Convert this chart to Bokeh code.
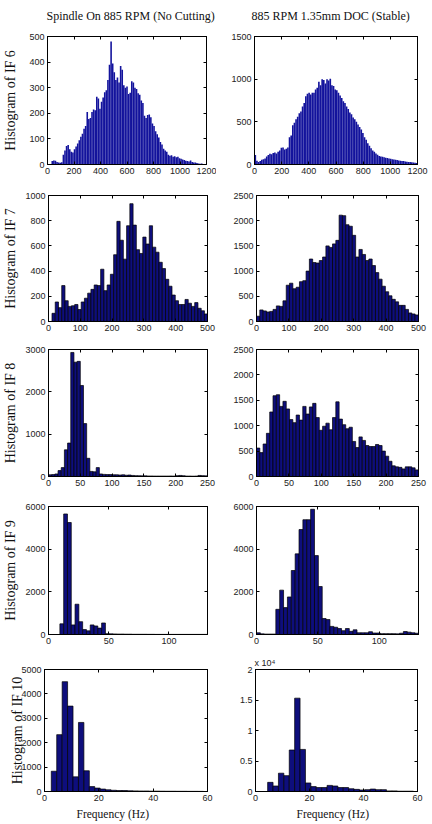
import numpy as np
from bokeh.plotting import figure
from bokeh.models import Range1d, FixedTicker, LinearAxis, Title, Label
from bokeh.layouts import column, row
from bokeh.embed import file_html
from bokeh.resources import INLINE

# ---- histogram counts (one list per panel) ----
# IF 6: bins of 12 Hz
if6_nocut = [14, 16, 15, 10, 8, 7, 9, 38, 55, 72, 76, 60, 50, 47, 60, 70, 82, 95, 108, 120,
             140, 150, 205, 178, 182, 205, 215, 212, 265, 258, 218, 245, 262, 282, 290, 330, 390, 480, 395, 360,
             330, 340, 320, 385, 370, 310, 300, 305, 275, 280, 325, 320, 300, 295, 278, 272, 250, 240, 190, 182,
             193, 195, 185, 160, 150, 130, 118, 105, 88, 78, 62, 55, 50, 38, 34, 36, 30, 32, 28, 30,
             24, 22, 20, 18, 15, 14, 12, 16, 10, 8, 8, 6, 4, 3, 4, 2]
if6_stable = [110, 45, 30, 40, 55, 62, 70, 95, 110, 125, 120, 135, 140, 130, 150, 165, 195, 200, 175, 185,
              200, 320, 340, 460, 490, 530, 560, 600, 620, 680, 720, 800, 830, 840, 820, 840, 840, 880, 900, 970,
              930, 1000, 990, 950, 1000, 985, 1005, 930, 920, 880, 870, 840, 810, 780, 740, 720, 680, 650, 610, 590,
              550, 530, 500, 470, 440, 410, 370, 320, 290, 250, 220, 190, 165, 150, 130, 115, 100, 95, 90, 85,
              80, 75, 70, 68, 62, 58, 55, 52, 48, 45, 42, 40, 36, 33, 30, 28, 25, 22, 20, 18]
# IF 7
if7_nocut = [65, 155, 110, 285, 165, 120, 125, 135, 95, 155, 185, 225, 255, 290, 285, 415, 245, 290, 375, 530,
             795, 645, 495, 760, 935, 765, 570, 540, 670, 615, 760, 590, 550, 470, 420, 335, 280, 210, 165, 135,
             135, 175, 145, 120, 150, 105, 85, 60]
if7_stable = [105, 230, 210, 190, 200, 240, 310, 300, 410, 720, 760, 650, 680, 790, 810, 1000, 1240, 1170, 1160, 1210,
              1280, 1500, 1470, 1540, 1610, 2110, 2100, 1920, 1890, 1710, 1280, 1430, 1330, 1210, 1240, 1110, 970, 840, 700, 590,
              510, 440, 390, 320, 320, 240, 170, 150, 130]
# IF 8
if8_nocut = [40, 45, 60, 140, 210, 630, 790, 2930, 2700, 2720, 2150, 1250, 430, 120, 110, 210, 60, 50, 45, 45,
             40, 40, 35, 40, 30, 35, 25, 20, 18, 15, 15, 12, 12, 10, 10, 10, 10, 10, 12, 10,
             20, 25, 18, 10, 10, 8, 10, 25, 20, 15]
if8_stable = [560, 470, 640, 850, 1270, 1590, 1610, 1380, 1480, 1330, 1120, 1060, 1210, 1110, 1380, 1230, 1370, 1440, 1160, 910,
              990, 1050, 920, 1160, 1470, 1130, 1020, 940, 970, 690, 570, 780, 710, 610, 590, 590, 630, 610, 500, 400,
              300, 210, 190, 180, 150, 190, 190, 170, 130]
# IF 9
if9_nocut = [0, 0, 0, 500, 5650, 5250, 450, 1420, 600, 230, 170, 450, 400, 300, 540, 40, 30, 25, 20, 20,
             15, 15, 10, 10, 10, 10, 8, 8, 5, 5, 5, 5, 5, 5, 5, 5, 5, 5, 5, 5, 5, 5]
if9_stable = [80, 30, 20, 20, 20, 1180, 2080, 1260, 1760, 3000, 3780, 4920, 5380, 5380, 5870, 3700, 2250, 750, 700, 380,
              340, 280, 180, 280, 150, 220, 80, 80, 80, 130, 70, 70, 40, 40, 40, 40, 30, 60, 140, 110, 80, 60]
# IF 10
if10_nocut = [0, 830, 2330, 4500, 3500, 600, 2830, 850, 200, 140, 100, 70, 50, 40, 40, 30, 25, 20, 20, 15,
              15, 12, 10, 10, 8, 8, 6, 6, 5]
if10_stable = [0, 0, 1500, 900, 3000, 2600, 6800, 15300, 6900, 1400, 800, 650, 650, 1000, 900, 650, 650, 450, 350, 250,
               300, 400, 300, 300, 100, 100, 50, 50, 50]

# ---- axis ticks ----
ticks_if6_x = [0, 200, 400, 600, 800, 1000, 1200]
ticks_if6_y_nocut = [0, 100, 200, 300, 400, 500]
ticks_if6_y_stable = [0, 500, 1000, 1500]
ticks_if7_x = [0, 100, 200, 300, 400, 500]
ticks_if7_y_nocut = [0, 200, 400, 600, 800, 1000]
ticks_if7_y_stable = [0, 500, 1000, 1500, 2000, 2500]
ticks_if8_x = [0, 50, 100, 150, 200, 250]
ticks_if8_y_nocut = [0, 1000, 2000, 3000]
ticks_if8_y_stable = [0, 500, 1000, 1500, 2000, 2500]
ticks_if9_x = [0, 50, 100]
ticks_if9_y = [0, 2000, 4000, 6000]
ticks_if10_x = [0, 20, 40, 60]
ticks_if10_y_nocut = [0, 1000, 2000, 3000, 4000, 5000]
ticks_if10_y_stable = [0, 5000, 10000, 15000, 20000]
labels_if10_y_stable = {0: "0", 5000: "0.5", 10000: "1", 15000: "1.5", 20000: "2"}

titles = ["Spindle On 885 RPM (No Cutting)", "885 RPM 1.35mm DOC (Stable)"]
ylabels = ["Histogram of IF 6", "Histogram of IF 7", "Histogram of IF 8", "Histogram of IF 9", "Histogram of IF 10"]
xlabel = "Frequency (Hz)"
exponent_label = "x 10\u2074"

SERIF = "Liberation Serif"
SANS = "Liberation Sans"
BAR = "#0e0e7c"
HEADER_H = 24


def style_axis(ax, hidden_labels=False):
    ax.axis_line_color = "black"
    ax.axis_line_width = 1
    ax.major_tick_in = 3
    ax.major_tick_out = 0
    ax.major_tick_line_color = "black"
    ax.minor_tick_line_color = None
    ax.major_label_text_font = SANS
    if hidden_labels:
        # tick marks only, no tick text on the mirrored top/right axes
        ax.major_label_text_color = None
        ax.major_label_text_font_size = "1px"
        ax.major_label_standoff = 0
    else:
        ax.major_label_text_color = "#222222"
        ax.major_label_text_font_size = "9px"
        ax.major_label_standoff = 3


def hist_panel(counts, edge0, binw, xmax, xticks, ymax, yticks, h, borders,
               ylabel=None, ylabel_standoff=4, thin=False, ylabel_overrides=None):
    bl, br, bt, bb = borders
    p = figure(width=216, height=h, x_range=Range1d(0, xmax), y_range=Range1d(0, ymax),
               output_backend="svg", toolbar_location=None,
               min_border_left=bl, min_border_right=br, min_border_top=bt, min_border_bottom=bb)
    edges = edge0 + binw * np.arange(len(counts) + 1)
    if thin:
        p.quad(left=edges[:-1], right=edges[1:], bottom=0, top=counts,
               fill_color="#13139c", line_color=None)
    else:
        p.quad(left=edges[:-1], right=edges[1:], bottom=0, top=counts,
               fill_color=BAR, line_color="black", line_width=0.7)
    p.grid.visible = False
    p.outline_line_color = "black"
    p.background_fill_color = "white"
    p.border_fill_color = "white"

    bottom_ax = p.below[0]
    left_ax = p.left[0]
    style_axis(bottom_ax)
    style_axis(left_ax)
    bottom_ax.ticker = FixedTicker(ticks=xticks)
    left_ax.ticker = FixedTicker(ticks=yticks)
    if ylabel_overrides:
        left_ax.major_label_overrides = ylabel_overrides

    top = LinearAxis(ticker=FixedTicker(ticks=xticks))
    style_axis(top, hidden_labels=True)
    p.add_layout(top, "above")
    right = LinearAxis(ticker=FixedTicker(ticks=yticks))
    style_axis(right, hidden_labels=True)
    p.add_layout(right, "right")

    if ylabel:
        left_ax.axis_label = ylabel
        left_ax.axis_label_text_font = SERIF
        left_ax.axis_label_text_font_style = "normal"
        left_ax.axis_label_text_font_size = "14px"
        left_ax.axis_label_text_color = "#111111"
        left_ax.axis_label_standoff = ylabel_standoff
    return p


def add_xlabel(p, offset):
    t = Title(text=xlabel, align="left", offset=offset, text_font=SERIF, text_font_size="11.5px",
              text_font_style="normal", text_color="#111111", standoff=4)
    p.add_layout(t, "below")


# column headings in a strip of their own above the grid
header = figure(width=432, height=HEADER_H, x_range=Range1d(0, 1), y_range=Range1d(0, 1),
                output_backend="svg", toolbar_location=None, x_axis_type=None, y_axis_type=None,
                min_border=0)
header.outline_line_color = None
header.grid.visible = False
header.border_fill_color = "white"
header.background_fill_color = "white"
for txt, sx in zip(titles, (46, 251)):
    header.add_layout(Label(x=sx, y=HEADER_H - 15, x_units="screen", y_units="screen", text=txt,
                            text_font=SERIF, text_font_size="12px", text_color="#111111",
                            text_align="left", text_baseline="middle"))

# row 1: IF 6
r1_h = 179 - HEADER_H
a1 = hist_panel(if6_nocut, 30, 12, 1200, ticks_if6_x, 500, ticks_if6_y_nocut, r1_h, (41, 10, 36 - HEADER_H, 15),
                ylabel=ylabels[0], ylabel_standoff=8, thin=True)
b1 = hist_panel(if6_stable, 0, 12, 1200, ticks_if6_x, 1500, ticks_if6_y_stable, r1_h, (38, 15, 36 - HEADER_H, 15),
                thin=True)

# row 2: IF 7
a2 = hist_panel(if7_nocut, 11, 10.2, 500, ticks_if7_x, 1000, ticks_if7_y_nocut, 157, (43, 9, 16, 15),
                ylabel=ylabels[1], ylabel_standoff=4)
b2 = hist_panel(if7_stable, 0, 10.2, 500, ticks_if7_x, 2500, ticks_if7_y_stable, 157, (40, 14, 16, 15))

# row 3: IF 8
a3 = hist_panel(if8_nocut, 0, 5, 250, ticks_if8_x, 3000, ticks_if8_y_nocut, 155, (43, 9, 13, 15),
                ylabel=ylabels[2], ylabel_standoff=4)
b3 = hist_panel(if8_stable, 0, 5.1, 250, ticks_if8_x, 2500, ticks_if8_y_stable, 155, (40, 14, 13, 15))

# row 4: IF 9
a4 = hist_panel(if9_nocut, 0, 3.15, 132, ticks_if9_x, 6000, ticks_if9_y, 158, (43, 9, 15, 15),
                ylabel=ylabels[3], ylabel_standoff=4)
b4 = hist_panel(if9_stable, 0, 3.15, 132, ticks_if9_x, 6000, ticks_if9_y, 158, (40, 14, 15, 15))

# row 5: IF 10
a5 = hist_panel(if10_nocut, 0.5, 2, 60, ticks_if10_x, 5000, ticks_if10_y_nocut, 175, (44, 9, 14, 33),
                ylabel=ylabels[4], ylabel_standoff=-7)
b5 = hist_panel(if10_stable, 0.5, 2, 60, ticks_if10_x, 20000, ticks_if10_y_stable, 175, (39, 15, 20, 33),
                ylabel_overrides=labels_if10_y_stable)
add_xlabel(a5, 32)
add_xlabel(b5, 41)

# exponent marker for the right-hand IF 10 axis
b5.title.text = exponent_label
b5.title.align = "left"
b5.title.offset = -1
b5.title.text_font = SANS
b5.title.text_font_size = "9px"
b5.title.text_font_style = "normal"
b5.title.text_color = "#222222"
b5.title.standoff = 3

layout = column(header, row(a1, b1), row(a2, b2), row(a3, b3), row(a4, b4), row(a5, b5))

open("out.html", "w").write(file_html(layout, INLINE))
